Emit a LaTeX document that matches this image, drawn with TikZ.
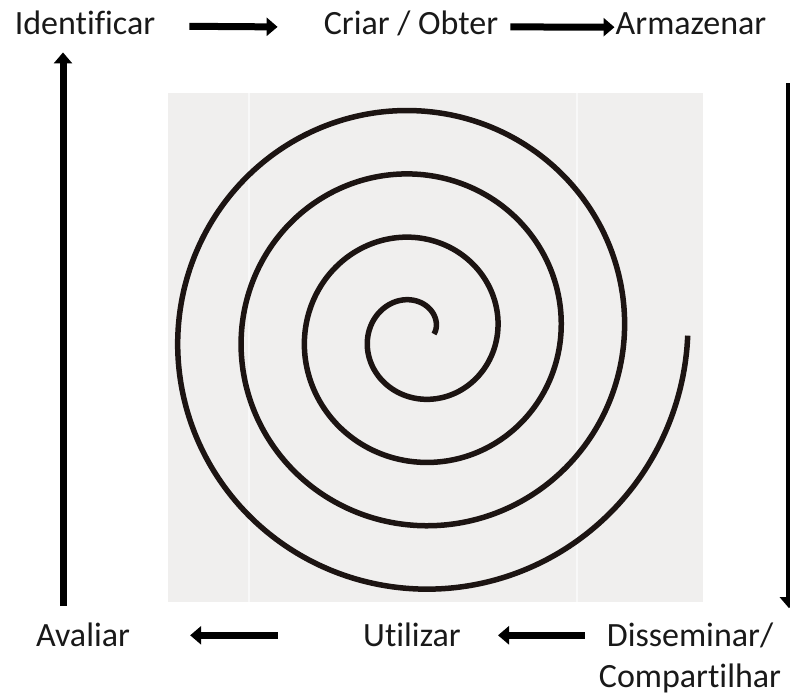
\documentclass[tikz,border=0pt]{standalone}
\usepackage{fontspec}
\setmainfont{Carlito}[Ligatures=NoCommon]
\usetikzlibrary{calc,arrows.meta}
\usetikzlibrary{positioning}

\definecolor{panelgray}{HTML}{F0EFEE}
\definecolor{seamgray}{HTML}{F8F8F8}
\definecolor{inkdark}{HTML}{1C1412}

\begin{document}
\begin{tikzpicture}[
    x=1pt, y=1pt,
    stage/.style={inner sep=0pt, anchor=base, text=black!90, font=\fontsize{34}{41}\selectfont},
    flow arrow/.style={draw, black, line width=7pt, -{Triangle[length=11pt, width=18pt]}},
    spiral line/.style={draw=inkdark, line width=5.5pt}
]

% FIXED BOUNDING BOX (same proportions as the original)
\path[use as bounding box] (0,0) rectangle (790,700);

% grey panel behind the spiral
\fill[panelgray] (168,98) rectangle (703,607);
\draw[seamgray, line width=1.2pt] (249,98) -- (249,607);
\draw[seamgray, line width=1.2pt] (577,98) -- (577,607);

% the spiral, from the centre outwards
\draw[spiral line] plot[domain=0:25.1327, samples=500, smooth, variable=\t]
    ({417+(17+10.1*\t)*cos(\t r)}, {366+(17+10.1*\t)*sin(\t r)});

% stages of the cycle
\node[stage] (ident)  at (85,665)  {Identificar};
\node[stage] (criar)  at (411,665) {Criar / Obter};
\node[stage] (armaz)  at (691,665) {Armazenar};
\node[stage] (aval)   at (83,53)   {Avaliar};
\node[stage] (util)   at (412,53)  {Utilizar};
\node[stage, align=center] (dissem) at (690,12) {Disseminar/\\Compartilhar};

% arrows around the cycle
\draw[flow arrow] ([xshift=34pt,yshift=-3pt]ident.east) -- ([xshift=-46pt,yshift=-3pt]criar.west);
\draw[flow arrow] ([xshift=12pt,yshift=-3pt]criar.east) -- ([xshift=-1pt,yshift=-3pt]armaz.west);
\draw[flow arrow] ($(armaz.south)+(98,-48)$) -- ($(dissem.north)+(99,15)$);
\draw[flow arrow] ($(dissem.west |- util.east)+(-14,0)$) -- ([xshift=37pt]util.east);
\draw[flow arrow] ([xshift=-85pt]util.west) -- ([xshift=60pt]aval.east);
\draw[flow arrow] ($(aval.north)+(-20,17)$) -- ($(ident.south)+(-22,-17)$);

\end{tikzpicture}
\end{document}
